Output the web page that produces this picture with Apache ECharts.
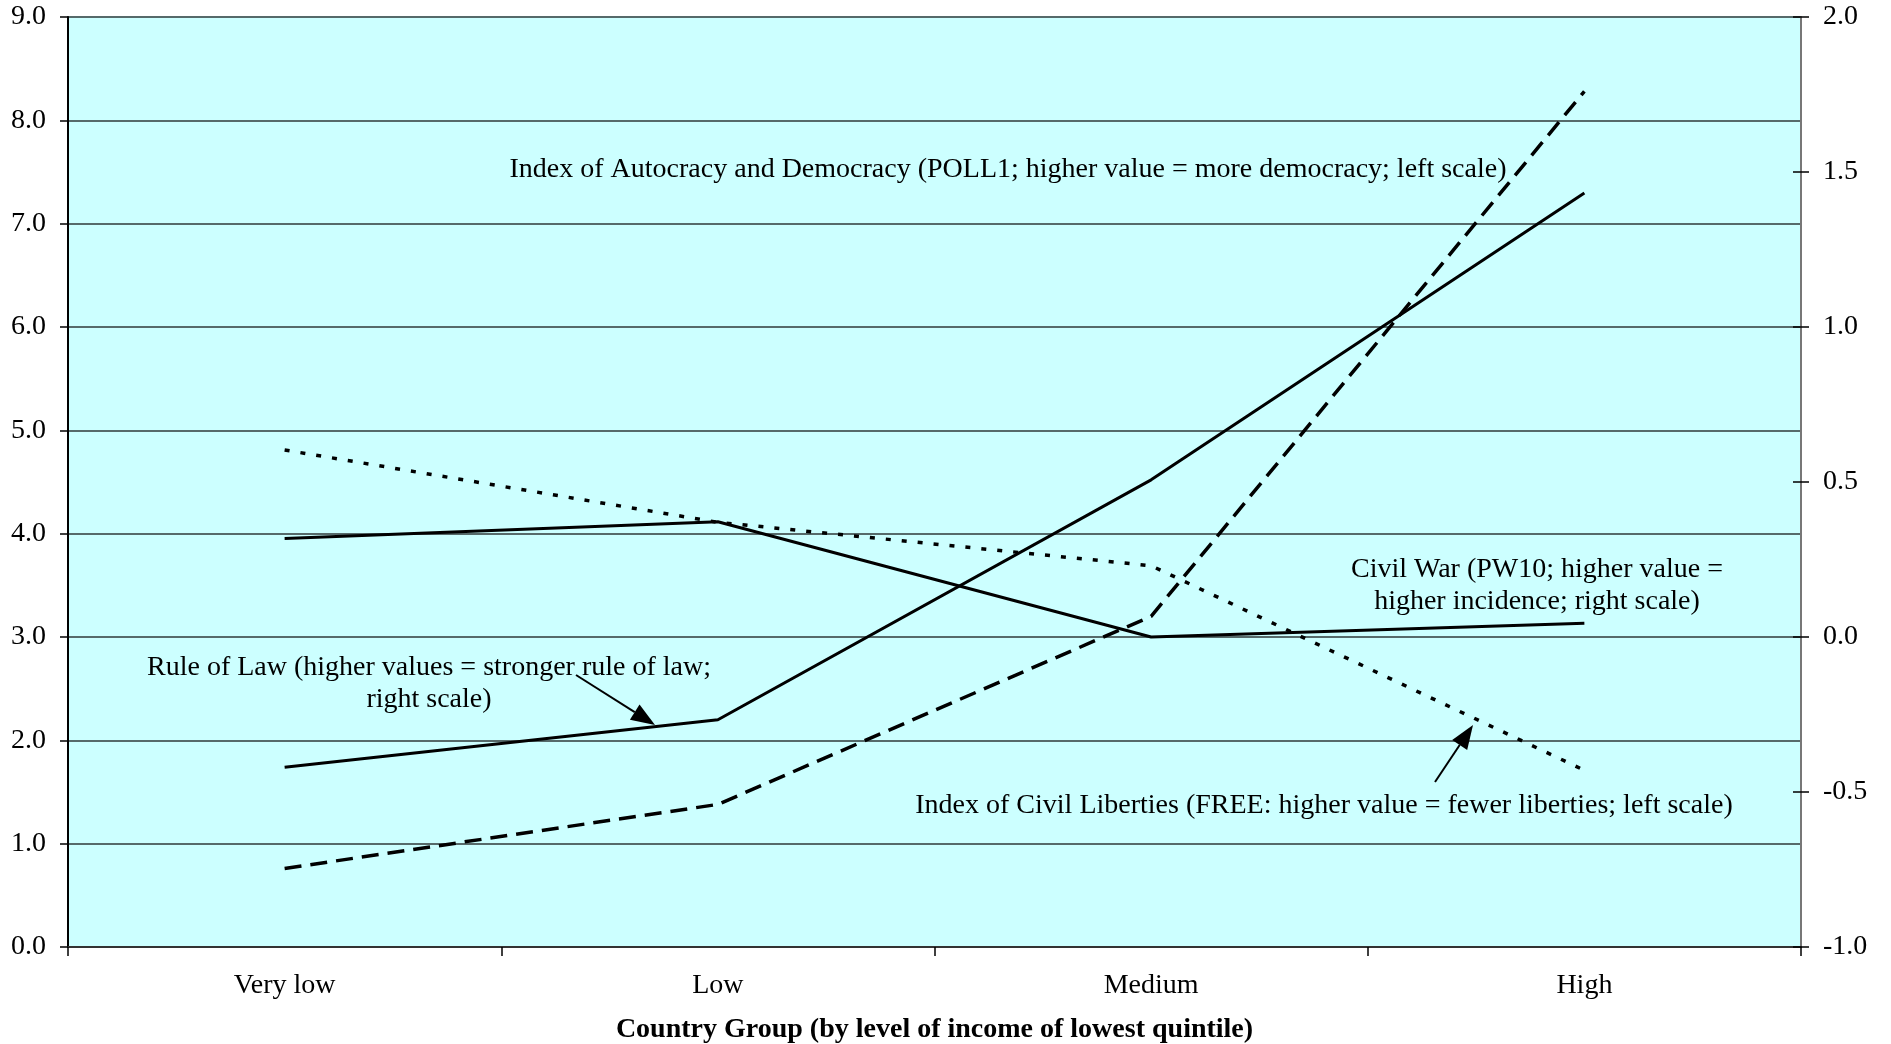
<!DOCTYPE html>
<html>
<head>
<meta charset="utf-8">
<title>Country Group chart</title>
<script src="https://cdn.jsdelivr.net/npm/echarts@6/dist/echarts.min.js"></script>
<style>
    html, body { margin: 0; padding: 0; background: #ffffff; }
    #main { width: 1891px; height: 1044px; }
</style>
</head>
<body>
<div id="main"></div>
<script>
// 类别 (x 轴)
var categories = ['Very low', 'Low', 'Medium', 'High'];
// 左轴刻度
var leftTicks = [0, 1, 2, 3, 4, 5, 6, 7, 8, 9];
// 右轴刻度
var rightTicks = [-1.0, -0.5, 0.0, 0.5, 1.0, 1.5, 2.0];

// POLL1 (left scale)
var poll1Values = [0.76, 1.38, 3.20, 8.28];
// FREE (left scale)
var freeValues = [4.81, 4.11, 3.69, 1.71];
// Rule of Law (right scale)
var ruleOfLawValues = [-0.42, -0.267, 0.507, 1.432];
// PW10 civil war (right scale)
var civilWarValues = [0.318, 0.372, 0.0, 0.044];

var serif = '"Liberation Serif", "Times New Roman", serif';

// 箭头 (线 + 三角形)
function arrow(x1, y1, x2, y2) {
    var dx = x2 - x1, dy = y2 - y1;
    var len = Math.sqrt(dx * dx + dy * dy);
    var ux = dx / len, uy = dy / len;
    var headLen = 24, headHalf = 9;
    var bx = x2 - ux * headLen, by = y2 - uy * headLen;
    return [{
        type: 'line',
        shape: { x1: x1, y1: y1, x2: bx, y2: by },
        style: { stroke: '#000', lineWidth: 2 },
        z: 100
    }, {
        type: 'polygon',
        shape: {
            points: [[x2, y2], [bx - uy * headHalf, by + ux * headHalf], [bx + uy * headHalf, by - ux * headHalf]]
        },
        style: { fill: '#000' },
        z: 100
    }];
}

function note(text, x, y) {
    return {
        type: 'text',
        x: x,
        y: y,
        style: {
            text: text,
            font: '28px ' + serif,
            fill: '#000',
            align: 'center',
            verticalAlign: 'middle',
            lineHeight: 32
        },
        z: 100
    };
}

var myCharts = echarts.init(document.getElementById('main'));

var graphics = [
    note('Index of Autocracy and Democracy (POLL1; higher value = more democracy; left scale)', 1008, 170),
    note('Civil War (PW10; higher value =\nhigher incidence; right scale)', 1537, 586),
    note('Rule of Law (higher values = stronger rule of law;\nright scale)', 429, 684),
    note('Index of Civil Liberties (FREE: higher value = fewer liberties; left scale)', 1324, 806)
];
graphics = graphics.concat(arrow(576, 675, 655, 725));
graphics = graphics.concat(arrow(1435, 782, 1473, 725));

var option = {
    animation: false,
    backgroundColor: '#ffffff',
    textStyle: { fontFamily: serif },
    grid: {
        left: 68,
        right: 90,
        top: 17,
        bottom: 97,
        outerBoundsMode: 'none',
        show: true,
        backgroundColor: '#ccffff',
        borderWidth: 0
    },
    xAxis: {
        type: 'category',
        data: categories,
        boundaryGap: true,
        name: 'Country Group (by level of income of lowest quintile)',
        nameLocation: 'middle',
        nameGap: 69,
        nameTextStyle: {
            fontFamily: serif,
            fontSize: 28,
            fontWeight: 'bold',
            color: '#000'
        },
        axisLine: { lineStyle: { color: '#333', width: 2 } },
        axisTick: { show: true, length: 9, lineStyle: { color: '#000', width: 1.5 } },
        axisLabel: {
            margin: 25,
            fontFamily: serif,
            fontSize: 28,
            color: '#000'
        },
        splitLine: { show: false }
    },
    yAxis: [{
        type: 'value',
        position: 'left',
        min: leftTicks[0],
        max: leftTicks[leftTicks.length - 1],
        interval: 1,
        axisLine: { show: true, lineStyle: { color: '#000', width: 2 } },
        axisTick: { show: true, length: 8, lineStyle: { color: '#000', width: 1.5 } },
        axisLabel: {
            margin: 22,
            fontFamily: serif,
            fontSize: 28,
            color: '#000',
            formatter: function (v) { return v.toFixed(1); }
        },
        splitLine: { show: true, lineStyle: { color: '#566a6a', width: 2 } }
    }, {
        type: 'value',
        position: 'right',
        min: rightTicks[0],
        max: rightTicks[rightTicks.length - 1],
        interval: 0.5,
        axisLine: { show: true, lineStyle: { color: '#777', width: 2 } },
        axisTick: { show: true, length: 8, lineStyle: { color: '#000', width: 1.5 } },
        axisLabel: {
            margin: 22,
            fontFamily: serif,
            fontSize: 28,
            color: '#000',
            formatter: function (v) { return v.toFixed(1); }
        },
        splitLine: { show: false }
    }, {
        // 右轴内侧刻度 (十字刻度)
        type: 'value',
        position: 'right',
        min: rightTicks[0],
        max: rightTicks[rightTicks.length - 1],
        interval: 0.5,
        axisLine: { show: false },
        axisTick: { show: true, inside: true, length: 8, lineStyle: { color: '#000', width: 1.5 } },
        axisLabel: { show: false },
        splitLine: { show: false }
    }],
    series: [{
        name: 'POLL1',
        type: 'line',
        yAxisIndex: 0,
        data: poll1Values,
        symbol: 'none',
        lineStyle: { color: '#000', width: 3.5, type: [17, 9], cap: 'butt' },
        z: 5
    }, {
        name: 'FREE',
        type: 'line',
        yAxisIndex: 0,
        data: freeValues,
        symbol: 'none',
        lineStyle: { color: '#000', width: 3.5, type: [5, 11], cap: 'butt' },
        z: 5
    }, {
        name: 'Rule of Law',
        type: 'line',
        yAxisIndex: 1,
        data: ruleOfLawValues,
        symbol: 'none',
        lineStyle: { color: '#000', width: 3 },
        z: 5
    }, {
        name: 'PW10',
        type: 'line',
        yAxisIndex: 1,
        data: civilWarValues,
        symbol: 'none',
        lineStyle: { color: '#000', width: 3 },
        z: 5
    }],
    graphic: graphics
};
myCharts.setOption(option);
</script>
</body>
</html>
